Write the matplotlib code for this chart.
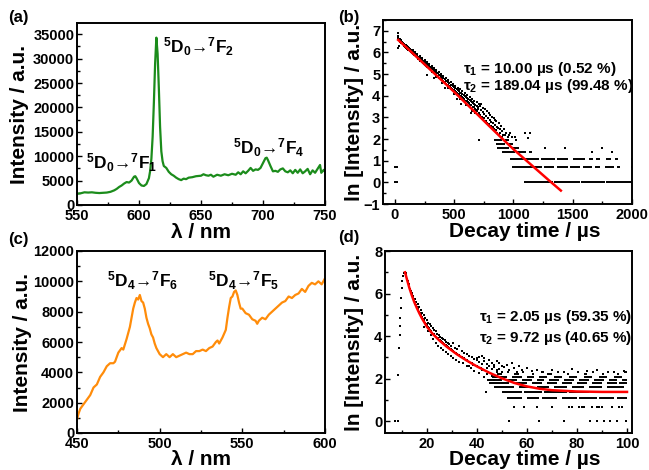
import matplotlib
matplotlib.use("Agg")
import matplotlib.pyplot as plt
from matplotlib.ticker import MultipleLocator

plt.rcParams['font.family'] = ['Liberation Sans', 'DejaVu Sans']
plt.rcParams['font.weight'] = 'bold'
plt.rcParams['axes.labelweight'] = 'bold'
plt.rcParams['mathtext.fontset'] = 'custom'
plt.rcParams['mathtext.rm'] = 'Liberation Sans:bold'
plt.rcParams['mathtext.bf'] = 'Liberation Sans:bold'
plt.rcParams['mathtext.it'] = 'Liberation Sans:bold'
plt.rcParams['mathtext.default'] = 'bf'

# ---------------- (a) emission spectrum (Eu) ----------------
a_wl = [550, 553, 556, 559, 562, 565, 568, 571, 574, 577, 580, 582, 584, 586, 588, 590, 592, 594, 596, 597,
        598, 600, 602, 604, 606, 608, 609, 610, 611, 612, 613, 614, 615, 616, 617, 618, 619, 620, 622, 624,
        626, 628, 630, 632, 634, 636, 638, 640, 643, 646, 650, 652, 654, 656, 658, 660, 663, 666, 669, 672,
        675, 678, 680, 682, 684, 686, 688, 690, 692, 694, 696, 698, 700, 702, 703, 704, 706, 708, 710, 712,
        714, 716, 718, 720, 722, 724, 726, 728, 730, 732, 734, 736, 738, 740, 742, 744, 746, 747, 749, 750]
a_int = [2300, 2400, 2600, 2550, 2600, 2500, 2450, 2500, 2550, 2700, 3000, 3300, 3700, 4000, 4400, 4700, 4600, 5000, 5800, 5900,
         5500, 4500, 4000, 3900, 4300, 5500, 7000, 9500, 14000, 21000, 29000, 34300, 31000, 24000, 16000, 11000, 9000, 8000, 7600, 6800,
         6300, 6000, 5600, 5300, 5100, 5400, 5300, 5600, 5700, 5900, 6000, 6300, 6100, 6000, 6200, 5800, 6200, 6000, 6300, 6100,
         6400, 6200, 6700, 6300, 6900, 6500, 7000, 7600, 7000, 7300, 7200, 7600, 8600, 9600, 9700, 9200, 8000, 6900, 7000, 6800,
         7300, 7500, 6900, 6700, 7100, 6500, 7200, 6600, 7300, 6500, 6900, 7400, 6300, 7100, 6600, 7400, 8200, 6600, 7200, 6800]

# ---------------- (c) emission spectrum (Tb) ----------------
c_wl = [450, 451, 452, 454, 456, 458, 460, 462, 464, 466, 468, 470, 472, 473, 475, 477, 478, 480, 482, 483,
        484, 485, 486, 487, 488, 489, 490, 491, 492, 493, 494, 495, 496, 497, 498, 500, 502, 504, 506, 508,
        510, 512, 514, 516, 518, 520, 522, 524, 526, 528, 530, 532, 534, 535, 536, 538, 540, 541, 542, 543,
        544, 545, 546, 547, 548, 549, 550, 552, 554, 556, 558, 559, 560, 562, 564, 566, 568, 570, 572, 574,
        576, 578, 580, 582, 584, 586, 588, 590, 592, 594, 596, 598, 600]
c_int = [900, 1300, 1600, 1900, 2200, 2500, 3000, 3200, 3700, 4000, 4400, 4600, 4600, 4700, 5300, 5600, 5500, 6200, 7000, 7600,
         8200, 8600, 8900, 8800, 9100, 8700, 8600, 8200, 7600, 7200, 6900, 6500, 6300, 5900, 5600, 5200, 5000, 5200, 5000, 5200,
         5000, 5100, 5200, 5300, 5200, 5200, 5400, 5400, 5500, 5400, 5600, 5700, 6000, 6100, 5900, 6300, 6800, 7600, 8300, 8900,
         9000, 9300, 9400, 9100, 8600, 8200, 8200, 7900, 7800, 7500, 7400, 7200, 7400, 7600, 7500, 7800, 8000, 8200, 8400, 8600,
         8700, 9000, 8900, 9100, 9200, 9500, 9300, 9700, 9900, 9800, 10000, 9800, 10200]

# ---------------- (b) decay curve (Eu) ----------------
b_fit_t = [28, 100, 200, 300, 400, 500, 600, 700, 800, 900, 1000, 1100, 1200, 1300, 1400]
b_fit_y = [6.58, 6.22, 5.71, 5.20, 4.69, 4.18, 3.65, 3.12, 2.58, 2.05, 1.53, 1.05, 0.57, 0.09, -0.38]

b_pt_t = [30, 30, 30, 35, 30, 40, 50, 60, 70, 80, 90, 100, 110, 120, 130, 140, 150, 160, 170, 180, 190, 200,
          210, 220, 230, 240, 250, 260, 270, 280, 290, 300, 310, 320, 330, 340, 350, 360, 370, 380, 390, 400,
          410, 420, 430, 440, 450, 460, 470, 480, 490, 500, 510, 520, 530, 540, 550, 560, 570, 580, 590, 600,
          610, 620, 630, 640, 650, 660, 670, 680, 690, 700,
          45, 55, 65, 75, 85, 95, 105, 115, 125, 135, 145, 155, 165, 175, 185, 195, 205, 215, 225, 235, 245,
          255, 265, 275, 285, 295, 305, 315, 325, 335, 345, 355, 365, 375, 385, 395, 405, 415, 425, 435, 445,
          455, 465, 475, 485, 495, 505, 515, 525, 535, 545, 555, 565, 575, 585, 595, 605, 615, 625, 635, 645,
          655, 665, 675, 685, 695,
          150, 170, 190, 210, 230, 250, 270, 290, 310, 330, 350, 370, 390, 410, 430, 450, 470, 490, 510, 530,
          550, 570, 590, 610, 630, 650, 670, 690, 710,
          350, 400, 450, 500, 550, 600, 650, 680,
          267, 330, 420, 520, 560, 640,
          705, 710, 715, 720, 725, 730, 735, 740, 745, 750, 755, 760, 765, 770, 775, 780, 785, 790, 795, 800,
          805, 810, 815, 820, 825, 830, 835, 840, 845, 850, 855, 860, 865, 870, 875, 880, 885, 890, 895, 900,
          905, 910, 920, 930, 940, 950, 960, 975, 990, 1010, 1020, 710, 844, 1125, 1139, 1267, 1434, 1744, 1660,
          1830, 1100]
b_pt_y = [6.90, 6.75, 6.20, 6.30, 6.66, 6.60, 6.56, 6.50, 6.46, 6.40, 6.35, 6.31, 6.25, 6.21, 6.15, 6.11, 6.06, 6.00, 5.96, 5.91, 5.85, 5.81,
          5.76, 5.70, 5.67, 5.61, 5.57, 5.52, 5.46, 5.42, 5.37, 5.31, 5.28, 5.22, 5.18, 5.13, 5.08, 5.04, 4.98, 4.95, 4.89, 4.85,
          4.80, 4.76, 4.70, 4.67, 4.62, 4.58, 4.52, 4.49, 4.44, 4.40, 4.34, 4.31, 4.26, 4.22, 4.15, 4.13, 4.08, 4.02, 3.98, 3.95,
          3.88, 3.85, 3.80, 3.76, 3.70, 3.68, 3.62, 3.58, 3.52, 3.50,
          6.50, 6.44, 6.38, 6.31, 6.27, 6.21, 6.17, 6.12, 6.07, 6.02, 5.98, 5.92, 5.88, 5.82, 5.78, 5.72, 5.68, 5.62, 5.58, 5.52, 5.49,
          5.43, 5.39, 5.32, 5.28, 5.22, 5.18, 5.12, 5.08, 5.03, 4.99, 4.93, 4.89, 4.83, 4.80, 4.73, 4.70, 4.64, 4.61, 4.55, 4.52,
          4.45, 4.42, 4.36, 4.33, 4.27, 4.24, 4.17, 4.14, 4.08, 4.05, 3.98, 3.95, 3.89, 3.86, 3.78, 3.76, 3.69, 3.66, 3.59, 3.56,
          3.48, 3.46, 3.40, 3.36, 3.28,
          6.12, 6.02, 5.93, 5.84, 5.74, 5.65, 5.56, 5.46, 5.36, 5.27, 5.17, 5.09, 4.99, 4.90, 4.82, 4.72, 4.64, 4.55, 4.45, 4.38,
          4.30, 4.20, 4.12, 4.05, 3.95, 3.86, 3.78, 3.70, 3.62,
          4.85, 4.60, 4.35, 4.10, 3.85, 3.58, 3.30, 3.20,
          4.95, 4.80, 4.35, 3.85, 3.60, 3.20,
          3.40, 3.20, 3.55, 3.10, 3.35, 3.60, 3.02, 3.25, 3.45, 2.95, 3.15, 3.38, 2.85, 3.05, 3.30, 2.75, 2.98, 3.20, 2.70, 2.88,
          3.10, 2.60, 2.80, 3.00, 2.55, 2.72, 2.95, 2.48, 2.65, 2.40, 2.85, 2.58, 2.30, 2.50, 2.75, 2.20, 2.45, 2.30, 2.60, 2.08,
          2.35, 2.20, 2.45, 2.20, 2.30, 2.08, 2.20, 2.30, 2.08, 2.08, 1.95, 1.95, 2.88, 2.04, 2.27, 1.61, 1.61, 1.61, 1.39,
          1.39, 2.30]

# runs of points on the discrete count levels: (start, end, level)
b_run_t0 = [-8, 1085, 1340, 1570, 1780, -8, 985, 1255, 1365, 1480, 1590, 1690, 1770, 1870, 1990,
            975, 1230, 1370, 1500, 1640, 1700, 1780, 1860, 1990, 900, 1030, 1130, 860, 990, 850, 960, 840, 930]
b_run_t1 = [30, 1330, 1560, 1770, 2000, 30, 1240, 1340, 1460, 1560, 1660, 1730, 1850, 1900, 2000,
            1215, 1350, 1460, 1600, 1670, 1730, 1820, 1880, 2000, 1010, 1110, 1160, 960, 1050, 930, 1000, 900, 960]
b_run_y = [0, 0, 0, 0, 0, 0.69, 0.69, 0.69, 0.69, 0.69, 0.69, 0.69, 0.69, 0.69, 0.69,
           1.10, 1.10, 1.10, 1.10, 1.10, 1.10, 1.10, 1.10, 1.10, 1.39, 1.39, 1.39, 1.61, 1.61, 1.79, 1.79, 1.95, 1.95]

# ---------------- (d) decay curve (Tb) ----------------
d_fit_t = [11.3, 12, 13, 14, 15, 16, 17, 18, 20, 22, 25, 28, 32, 36, 40, 45, 50, 55, 60, 65, 70, 80, 90, 100]
d_fit_y = [7.0, 6.70, 6.28, 5.92, 5.60, 5.33, 5.08, 4.85, 4.45, 4.15, 3.80, 3.50, 3.15, 2.85, 2.58, 2.28, 2.02, 1.80,
           1.64, 1.53, 1.46, 1.40, 1.38, 1.38]

d_pt_t = [7.3, 8.5, 8.63, 8.9, 9.17, 9.3, 9.43, 9.57, 9.7, 9.97, 10.23, 10.63, 11.03,
          11.5, 11.8, 12.1, 12.4, 12.7, 13.0, 13.3, 13.6, 13.9, 14.2, 14.5, 14.8, 15.1, 15.4, 15.7, 16.0, 16.3, 16.6,
          16.9, 17.2, 17.5, 17.8, 18.1, 18.4, 18.7, 19.0, 19.3, 19.6, 19.9, 20.2, 20.5, 20.8, 21.1, 21.4, 21.7, 22.0,
          22.4, 22.8, 23.2, 23.6, 24.0, 24.4, 24.8, 25.2, 25.6, 26.0, 26.5, 27.0, 27.5, 28.0, 28.5, 29.0, 29.5, 30.0,
          30.5, 31.0, 31.5, 32.0, 33, 34, 35, 36, 37, 38, 39, 40, 41.5, 43, 44.5,
          14.0, 14.6, 15.2, 15.8, 16.4, 17.0, 17.6, 18.2, 18.8, 19.4, 20.0, 20.6, 21.2, 21.8, 22.4, 23.0, 23.6, 24.2,
          24.8, 25.4, 26.0, 26.6, 27.2, 27.8, 28.4, 29.0, 29.8, 30.6, 31.4, 32.2, 33.0, 34.0, 35.0, 36.0, 37.0, 38.0,
          39.0, 40.0, 41.0, 42.0, 43.0, 44.0, 45.0, 46, 47, 48, 49, 50,
          19.0, 20.4, 21.5, 22.6, 23.5, 24.5, 25.5, 26.5, 27.5, 28.5, 29.5, 30.5, 31.5, 33.0, 34.5, 36.0, 37.5, 39.0,
          41.0, 43.0, 45.0, 47, 37, 38.5, 42, 44, 46, 48, 43.6,
          40, 41, 42, 43, 44, 45, 46, 47, 48, 49, 50, 51, 52, 53, 54, 55, 56, 57, 58, 60, 62, 64, 66, 70, 75, 78,
          84, 88, 95, 99,
          52.9, 64.7, 75.0, 85.3, 88.0, 90.7, 93.3, 96.0, 99.5,
          55, 59, 64, 70, 77, 78, 81, 82, 83, 86, 88, 89, 90, 94, 97, 98]
d_pt_y = [0, 0, 2.19, 3.44, 4.07, 4.46, 4.85, 5.32, 5.79, 6.26, 6.57, 6.81, 6.96,
          6.95, 6.85, 6.70, 6.58, 6.44, 6.32, 6.20, 6.10, 5.98, 5.88, 5.78, 5.68, 5.60, 5.52, 5.44, 5.37, 5.28, 5.22,
          5.14, 5.08, 5.01, 4.94, 4.88, 4.82, 4.76, 4.70, 4.64, 4.57, 4.52, 4.46, 4.41, 4.36, 4.31, 4.26, 4.22, 4.17,
          4.12, 4.08, 4.02, 3.98, 3.93, 3.90, 3.84, 3.80, 3.76, 3.72, 3.66, 3.62, 3.57, 3.52, 3.48, 3.42, 3.38, 3.35,
          3.30, 3.25, 3.22, 3.18, 3.10, 3.02, 2.95, 2.88, 2.80, 2.74, 2.66, 2.60, 2.50, 2.42, 2.32,
          6.05, 5.90, 5.76, 5.62, 5.50, 5.36, 5.22, 5.10, 4.98, 4.86, 4.76, 4.64, 4.55, 4.46, 4.38, 4.28, 4.22, 4.12,
          4.06, 3.98, 3.92, 3.86, 3.80, 3.72, 3.70, 3.62, 3.55, 3.68, 3.45, 3.40, 3.52, 3.30, 3.22, 3.15, 3.05, 3.00,
          2.92, 2.88, 2.80, 3.05, 2.95, 2.70, 2.62, 2.75, 2.55, 2.85, 2.48, 2.60,
          4.45, 4.25, 4.05, 3.85, 3.70, 3.55, 3.45, 3.35, 3.25, 3.15, 3.08, 2.95, 2.90, 2.80, 2.72, 2.60, 2.50, 2.38,
          2.25, 2.10, 1.95, 1.92, 2.58, 2.65, 2.40, 2.20, 2.15, 2.30, 1.37,
          2.95, 3.00, 2.70, 2.85, 2.50, 2.90, 2.45, 2.65, 2.40, 2.75, 2.30, 2.55, 2.65, 2.40, 2.75, 2.50, 2.30, 2.60,
          2.40, 2.50, 2.35, 2.40, 2.30, 2.40, 2.30, 2.45, 2.35, 2.40, 2.30, 2.35,
          0, 0, 0, 0, 0, 0, 0, 0, 0,
          0.69, 0.69, 0.69, 0.69, 0.69, 0.69, 0.69, 0.69, 0.69, 0.69, 0.69, 0.69, 0.69, 0.69, 0.69, 0.69]

d_run_t0 = [52, 58, 66, 72, 80, 86, 92, 99, 48, 55, 62, 68, 76, 83, 90, 96,
            46, 54, 60, 65, 71, 77, 83, 89, 95, 44, 52, 58, 64, 69, 75, 81, 87, 93, 98,
            45, 55, 62, 68, 74, 80, 86, 92, 97, 47, 57, 64, 71, 78, 85, 92,
            50, 59, 67, 77, 86, 95, 52, 60, 66, 74, 81, 89, 96]
d_run_t1 = [53, 59, 67, 73, 81, 87, 93, 100, 50, 57, 63, 70, 77, 84, 91, 97,
            52, 58, 63, 68, 74, 80, 86, 92, 98, 50, 56, 62, 67, 73, 79, 85, 91, 96, 100,
            53, 60, 66, 72, 78, 84, 90, 96, 100, 55, 62, 69, 76, 83, 90, 99,
            58, 66, 76, 85, 94, 100, 58, 65, 72, 80, 88, 95, 100]
d_run_y = [2.30] * 8 + [2.20] * 8 + [2.08] * 9 + [1.95] * 10 + [1.79] * 9 + [1.61] * 7 + [1.39] * 6 + [1.10] * 7

GREEN = '#1b8c1b'
ORANGE = '#ff8c0a'
RED = '#ff0000'

W, H = 649, 470
fig = plt.figure(figsize=(W / 100, H / 100), dpi=100)


def add_ax(l, t, r, b):
    return fig.add_axes([l / W, 1 - b / H, (r - l) / W, (b - t) / H])


def style(ax, xmaj, xmin, ymaj, ymin):
    ax.xaxis.set_major_locator(MultipleLocator(xmaj))
    ax.xaxis.set_minor_locator(MultipleLocator(xmin))
    ax.yaxis.set_major_locator(MultipleLocator(ymaj))
    ax.yaxis.set_minor_locator(MultipleLocator(ymin))
    ax.tick_params(which='both', direction='in', top=False, right=False, labelsize=10.5, width=1.0)
    ax.tick_params(axis='x', pad=3)
    ax.tick_params(axis='y', pad=2)
    ax.tick_params(which='major', length=3.5)
    ax.tick_params(which='minor', length=2)
    for s in ax.spines.values():
        s.set_linewidth(1.4)


def tran(s0, s1, l0, l1):
    # spectroscopic term label: ^{s0}D_{l0} -> ^{s1}F_{l1}
    return '${}^{%s}$D$_{%s}$\u2192${}^{%s}$F$_{%s}$' % (s0, l0, s1, l1)


axa = add_ax(77, 23, 325, 205)
axb = add_ax(383, 20, 632, 204)
axc = add_ax(77, 251, 325, 433)
axd = add_ax(385, 251, 632, 433)

# (a)
axa.plot(a_wl, a_int, color=GREEN, lw=1.6)
axa.set_xlim(550, 750)
axa.set_ylim(0, 37300)
style(axa, 50, 25, 5000, 2500)
axa.set_xlabel('λ / nm', fontsize=15, fontweight='bold')
axa.set_ylabel('Intensity / a.u.', fontsize=15, fontweight='bold')
axa.xaxis.set_label_coords(0.5, -0.1)
axa.yaxis.set_label_coords(-0.195, 0.5)
ann = dict(fontsize=12.5, fontweight='bold', ha='left', va='baseline')
axa.text(619, 31300, tran(5, 7, 0, 2), **ann)
axa.text(557, 7400, tran(5, 7, 0, 1), **ann)
axa.text(676, 10500, tran(5, 7, 0, 4), **ann)

# (b)
axb.hlines(b_run_y, b_run_t0, b_run_t1, color='k', lw=1.4)
axb.plot(b_pt_t, b_pt_y, 's', color='k', ms=2.1, mew=0)
axb.plot(b_fit_t, b_fit_y, color=RED, lw=1.8)
axb.set_xlim(-100, 2000)
axb.set_ylim(-1, 7.5)
style(axb, 500, 250, 1, 0.5)
axb.set_xlabel('Decay time / µs', fontsize=15, fontweight='bold')
axb.set_ylabel('ln [Intensity] / a.u.', fontsize=15, fontweight='bold')
axb.xaxis.set_label_coords(0.57, -0.1)
axb.yaxis.set_label_coords(-0.075, 0.5)
axb.text(574, 5.06, r'$\tau_{1}$ = 10.00 µs (0.52 %)', fontsize=11, fontweight='bold')
axb.text(574, 4.27, r'$\tau_{2}$ = 189.04 µs (99.48 %)', fontsize=11, fontweight='bold')

# (c)
axc.plot(c_wl, c_int, color=ORANGE, lw=1.6)
axc.set_xlim(450, 600)
axc.set_ylim(0, 12000)
style(axc, 50, 25, 2000, 1000)
axc.set_xlabel('λ / nm', fontsize=15, fontweight='bold')
axc.set_ylabel('Intensity / a.u.', fontsize=15, fontweight='bold')
axc.xaxis.set_label_coords(0.5, -0.093)
axc.yaxis.set_label_coords(-0.18, 0.5)
axc.text(468, 9650, tran(5, 7, 4, 6), **ann)
axc.text(529, 9650, tran(5, 7, 4, 5), **ann)

# (d)
axd.hlines(d_run_y, d_run_t0, d_run_t1, color='k', lw=1.4)
axd.plot(d_pt_t, d_pt_y, 's', color='k', ms=2.0, mew=0)
axd.plot(d_fit_t, d_fit_y, color=RED, lw=1.8)
axd.set_xlim(3.3, 102)
axd.set_ylim(-0.55, 8)
style(axd, 20, 10, 2, 1)
axd.set_xlabel('Decay time / µs', fontsize=15, fontweight='bold')
axd.set_ylabel('ln [Intensity] / a.u.', fontsize=15, fontweight='bold')
axd.xaxis.set_label_coords(0.565, -0.093)
axd.yaxis.set_label_coords(-0.085, 0.5)
axd.text(40.9, 4.72, r'$\tau_{1}$ = 2.05 µs (59.35 %)', fontsize=11, fontweight='bold')
axd.text(40.9, 3.74, r'$\tau_{2}$ = 9.72 µs (40.65 %)', fontsize=11, fontweight='bold')

# panel labels
for lab, x, y in [('(a)', 8, 10), ('(b)', 338, 10), ('(c)', 8, 232), ('(d)', 338, 230)]:
    fig.text(x / W, 1 - y / H, lab, fontsize=12, fontweight='bold', ha='left', va='top')

fig.savefig('out.png', dpi=100)
